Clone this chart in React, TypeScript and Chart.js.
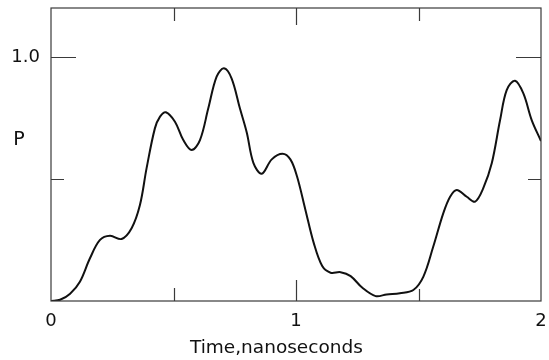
import React, { useEffect, useRef } from "react";
import { Chart, registerables } from "chart.js";

Chart.register(...registerables);

// Time in nanoseconds and probability P
const times = [
  0.0, 0.037, 0.078, 0.118, 0.159, 0.2, 0.241, 0.288, 0.329, 0.363, 0.39,
  0.424, 0.445, 0.469, 0.506, 0.54, 0.574, 0.608, 0.642, 0.676, 0.706, 0.737,
  0.771, 0.799, 0.826, 0.86, 0.901, 0.945, 0.977, 1.004, 1.038, 1.072, 1.107,
  1.141, 1.182, 1.223, 1.271, 1.325, 1.37, 1.424, 1.479, 1.52, 1.56, 1.601,
  1.629, 1.656, 1.697, 1.731, 1.764, 1.799, 1.833, 1.86, 1.894, 1.928, 1.962,
  2.0,
];
const pValues = [
  0.0, 0.005, 0.03, 0.079, 0.175, 0.25, 0.267, 0.254, 0.298, 0.393, 0.543,
  0.707, 0.755, 0.773, 0.734, 0.659, 0.618, 0.659, 0.789, 0.919, 0.953, 0.912,
  0.789, 0.69, 0.566, 0.521, 0.58, 0.603, 0.58, 0.511, 0.375, 0.239, 0.143,
  0.116, 0.118, 0.102, 0.054, 0.02, 0.027, 0.032, 0.045, 0.1, 0.222, 0.359,
  0.427, 0.455, 0.427, 0.407, 0.461, 0.564, 0.741, 0.864, 0.902, 0.85, 0.741,
  0.655,
];

const xTickLabels: Record<number, string> = { 0: "0", 1: "1", 2: "2" };
const yTickLabels: Record<number, string> = { 1: "1.0" };
const xMinorTicks = [0.5, 1, 1.5];
const yMinorTicks = [0.5, 1];
const xTitle = "Time,nanoseconds";
const yTitle = "P";

const frameColor = "#3a3a3a";
const inkColor = "#111";
const fontFamily = "'DejaVu Sans', sans-serif";

const zeroPadding = (scale: any) => {
  scale.paddingTop = 0;
  scale.paddingBottom = 0;
  scale.paddingLeft = 0;
  scale.paddingRight = 0;
};

const framePlugin = {
  id: "frameAndTicks",
  afterDraw(chart: any) {
    const { ctx, chartArea } = chart;
    const xs = chart.scales.x;
    const ys = chart.scales.y;
    const { left, right, top, bottom } = chartArea;
    ctx.save();
    ctx.strokeStyle = frameColor;
    ctx.lineWidth = 1.2;
    ctx.strokeRect(left, top, right - left, bottom - top);

    // x ticks (inward, top and bottom)
    const bottomLen: Record<number, number> = { 0.5: 13, 1: 21, 1.5: 12 };
    const topLen: Record<number, number> = { 0.5: 13, 1: 17, 1.5: 13 };
    ctx.beginPath();
    xMinorTicks.forEach((v) => {
      const px = Math.round(xs.getPixelForValue(v)) + 0.5;
      ctx.moveTo(px, bottom);
      ctx.lineTo(px, bottom - bottomLen[v]);
      ctx.moveTo(px, top);
      ctx.lineTo(px, top + topLen[v]);
    });
    // y ticks (inward, left and right)
    const yLen: Record<number, number> = { 0.5: 13, 1: 25 };
    yMinorTicks.forEach((v) => {
      const py = Math.round(ys.getPixelForValue(v)) + 0.5;
      ctx.moveTo(left, py);
      ctx.lineTo(left + yLen[v], py);
      ctx.moveTo(right, py);
      ctx.lineTo(right - yLen[v], py);
    });
    ctx.stroke();

    // axis titles
    ctx.fillStyle = inkColor;
    ctx.font = `18.5px ${fontFamily}`;
    ctx.textAlign = "center";
    ctx.textBaseline = "alphabetic";
    ctx.fillText(xTitle, left + (right - left) * 0.46, 352.5);
    ctx.font = `19px ${fontFamily}`;
    ctx.fillText(yTitle, 19, ys.getPixelForValue(0.64));
    ctx.restore();
  },
};

export default function App() {
  const canvasRef = useRef<HTMLCanvasElement | null>(null);

  useEffect(() => {
    document.body.style.margin = "0";
    const canvas = canvasRef.current;
    if (!canvas) return;
    const chart = new Chart(canvas, {
      type: "line",
      data: {
        datasets: [
          {
            data: times.map((t, i) => ({ x: t, y: pValues[i] })),
            borderColor: inkColor,
            borderWidth: 2,
            pointRadius: 0,
            fill: false,
            tension: 0.35,
          },
        ],
      },
      options: {
        animation: false,
        responsive: false,
        events: [],
        layout: { padding: { top: 8, right: 8, left: 0, bottom: 0 } },
        plugins: {
          legend: { display: false },
          tooltip: { enabled: false },
          title: { display: false },
        },
        scales: {
          x: {
            type: "linear",
            min: 0,
            max: 2,
            grid: { display: false, drawTicks: false },
            border: { display: false },
            ticks: {
              stepSize: 0.5,
              padding: 10,
              color: inkColor,
              font: { family: fontFamily, size: 18 },
              maxRotation: 0,
              autoSkip: false,
              callback: (v: any) =>
                xTickLabels[Number(v)] !== undefined ? xTickLabels[Number(v)] : null,
            },
            afterFit: (scale: any) => {
              scale.height = 59;
              zeroPadding(scale);
            },
          },
          y: {
            type: "linear",
            min: 0,
            max: 1.2,
            grid: { display: false, drawTicks: false },
            border: { display: false },
            ticks: {
              stepSize: 0.5,
              padding: 11,
              color: inkColor,
              font: { family: fontFamily, size: 18 },
              autoSkip: false,
              callback: (v: any) =>
                yTickLabels[Number(v)] !== undefined ? yTickLabels[Number(v)] : null,
            },
            afterFit: (scale: any) => {
              scale.width = 51;
              zeroPadding(scale);
            },
          },
        },
      },
      plugins: [framePlugin],
    } as any);
    return () => chart.destroy();
  }, []);

  return (
    <div style={{ width: 549, height: 360, background: "#fff" }}>
      <canvas ref={canvasRef} width={549} height={360} />
    </div>
  );
}
